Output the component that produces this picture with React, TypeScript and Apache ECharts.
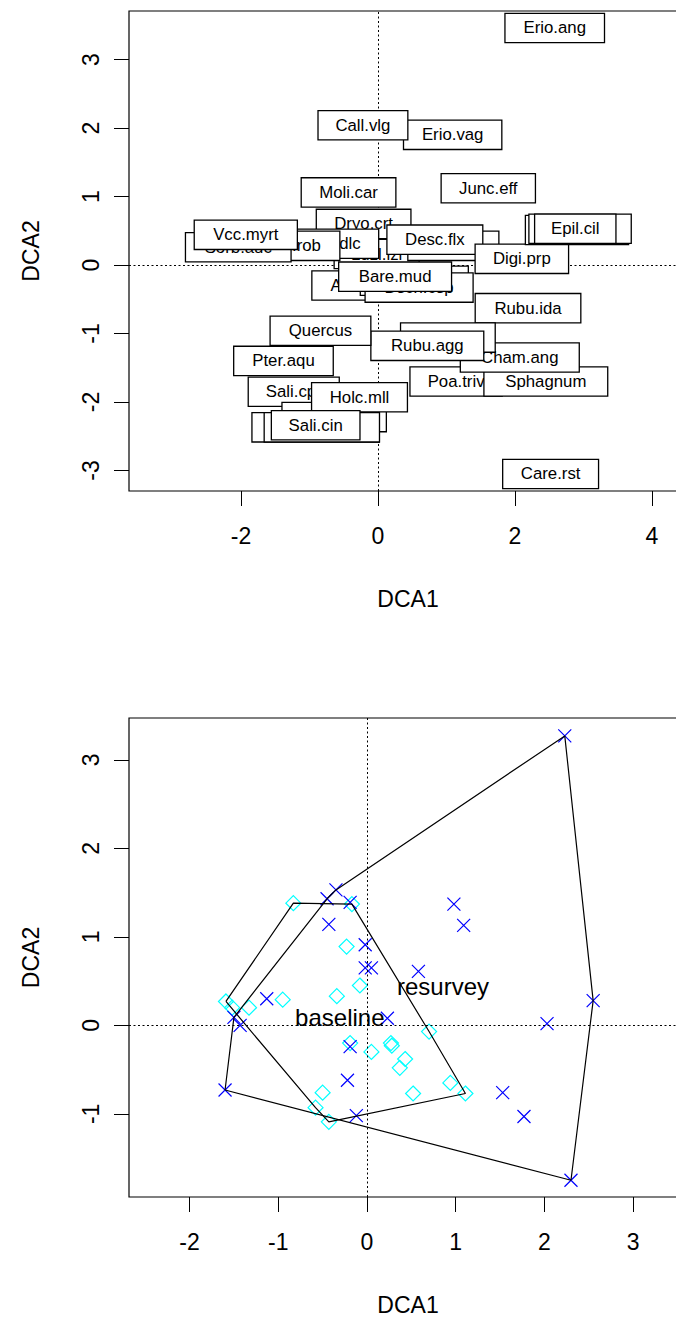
import React, { useEffect, useRef } from "react";
import * as echarts from "echarts";

// ---- Species scores (DCA1, DCA2), in plotting order: later labels sit on top ----
const speciesNames = [
  "Erio.ang", "Erio.vag", "Call.vlg", "Moli.car", "Junc.eff", "Dryo.crt", "Luzl.lzl",
  "Soln.dlc", "Quer.rob", "Sorb.auc", "Vcc.myrt", "Holc.lnt", "Desc.flx", "Digi.prp",
  "Lotu.pdn", "Lych.flsc", "Epil.cil", "Anth.odr", "Ranu.rpn", "Dsch.csp", "Bare.mud",
  "Rubu.ida", "Poa.triv", "Sphagnum", "Cham.ang", "Gali.apr", "Rubu.agg", "Quercus",
  "Pter.aqu", "Sali.cpr", "Agrs.can", "Holc.mll", "Sali.repens", "Sali.aurita",
  "Sali.cin", "Care.rst",
];
const speciesDCA1 = [
  2.58, 1.09, -0.22, -0.43, 1.61, -0.21, -0.02,
  -0.69, -1.31, -2.04, -1.93, 1.10, 0.83, 2.10,
  2.905, 2.95, 2.88, -0.23, 0.53, 0.60, 0.25,
  2.19, 1.14, 2.45, 2.07, 1.02, 0.72, -0.84,
  -1.38, -1.23, -0.64, -0.27, -0.91, -0.82,
  -0.91, 2.52,
];
const speciesDCA2 = [
  3.46, 1.90, 2.04, 1.06, 1.12, 0.60, 0.16,
  0.31, 0.28, 0.26, 0.44, 0.28, 0.37, 0.09,
  0.51, 0.53, 0.53, -0.30, -0.23, -0.33, -0.17,
  -0.63, -1.70, -1.70, -1.35, -1.06, -1.18, -0.96,
  -1.40, -1.85, -2.22, -1.93, -2.37, -2.37,
  -2.34, -3.05,
];

// ---- Site scores by survey ----
const groupNames = ["baseline", "resurvey"];
const baselineDCA1 = [
  -0.83, -0.17, -0.23, -0.08, -0.34, -0.95, -1.33, -1.59, -1.52, -0.19, 0.05,
  0.27, 0.28, 0.43, 0.37, 0.70, -0.50, -0.58, -0.43, 0.52, 0.94, 1.11,
];
const baselineDCA2 = [
  1.38, 1.37, 0.89, 0.45, 0.33, 0.29, 0.20, 0.27, 0.20, -0.20, -0.30,
  -0.20, -0.23, -0.38, -0.48, -0.07, -0.76, -0.93, -1.09, -0.77, -0.65, -0.77,
];
const resurveyDCA1 = [
  2.23, 2.55, 2.03, 2.30, 1.53, 1.77, 0.98, 1.09, 0.58, 0.23, -0.02, -0.02,
  0.05, -0.19, -0.22, -0.12, -1.13, -1.50, -1.43, -1.60, -0.35, -0.45, -0.19, -0.43,
];
const resurveyDCA2 = [
  3.27, 0.28, 0.02, -1.75, -0.76, -1.03, 1.37, 1.13, 0.61, 0.08, 0.91, 0.65,
  0.65, -0.24, -0.62, -1.02, 0.30, 0.09, 0.00, -0.73, 1.53, 1.43, 1.39, 1.14,
];

// ---- Axis ticks and plotting ranges ----
const topXTicks = [-2, 0, 2, 4];
const topYTicks = [-3, -2, -1, 0, 1, 2, 3];
const bottomXTicks = [-2, -1, 0, 1, 2, 3];
const bottomYTicks = [-1, 0, 1, 2, 3];
const topXRange = [-3.635, 4.511];
const topYRange = [-3.299, 3.708];
const bottomXRange = [-2.683, 3.608];
const bottomYRange = [-1.939, 3.472];

const FONT = "Liberation Sans, Arial, sans-serif";
const LABEL_SIZE = 16.8;
const AXIS_SIZE = 23;

type Pt = [number, number];

function zip(xs: number[], ys: number[]): Pt[] {
  return xs.map((x, i) => [x, ys[i]] as Pt);
}

// Monotone-chain convex hull
function convexHull(points: Pt[]): Pt[] {
  const p = points.slice().sort((a, b) => a[0] - b[0] || a[1] - b[1]);
  const cross = (o: Pt, a: Pt, b: Pt) =>
    (a[0] - o[0]) * (b[1] - o[1]) - (a[1] - o[1]) * (b[0] - o[0]);
  const lower: Pt[] = [];
  for (const q of p) {
    while (lower.length >= 2 && cross(lower[lower.length - 2], lower[lower.length - 1], q) <= 0) lower.pop();
    lower.push(q);
  }
  const upper: Pt[] = [];
  for (let i = p.length - 1; i >= 0; i--) {
    const q = p[i];
    while (upper.length >= 2 && cross(upper[upper.length - 2], upper[upper.length - 1], q) <= 0) upper.pop();
    upper.push(q);
  }
  upper.pop();
  lower.pop();
  return lower.concat(upper);
}

// Area centroid of a polygon
function polyCentre(poly: Pt[]): Pt {
  let a = 0, cx = 0, cy = 0;
  for (let i = 0; i < poly.length; i++) {
    const [x0, y0] = poly[i];
    const [x1, y1] = poly[(i + 1) % poly.length];
    const f = x0 * y1 - x1 * y0;
    a += f;
    cx += (x0 + x1) * f;
    cy += (y0 + y1) * f;
  }
  a /= 2;
  return [cx / (6 * a), cy / (6 * a)];
}

function measure(text: string, size: number): number {
  const ctx = document.createElement("canvas").getContext("2d");
  if (!ctx) return text.length * size * 0.55;
  ctx.font = `${size}px "Liberation Sans"`;
  return ctx.measureText(text).width;
}

function axisCommon(ticks: number[], range: number[], gridIndex: number, labelExtra: object) {
  return {
    gridIndex,
    type: "value",
    min: range[0],
    max: range[1],
    splitLine: { show: false },
    axisLine: { show: false, onZero: false },
    axisTick: {
      show: true,
      inside: false,
      length: 15,
      customValues: ticks,
      lineStyle: { color: "#000", width: 1 },
    },
    axisLabel: {
      customValues: ticks,
      fontFamily: FONT,
      fontSize: AXIS_SIZE,
      color: "#000",
      ...labelExtra,
    },
    nameTextStyle: { fontFamily: FONT, fontSize: AXIS_SIZE, color: "#000" },
  };
}

function dottedZeroLines(xAxisIndex: number, yAxisIndex: number) {
  return {
    type: "scatter",
    xAxisIndex,
    yAxisIndex,
    data: [[0, 0]],
    symbolSize: 0,
    silent: true,
    z: 1,
    markLine: {
      silent: true,
      symbol: "none",
      label: { show: false },
      lineStyle: { type: [2, 2.5], color: "#000", width: 1, opacity: 1 },
      data: [{ xAxis: 0 }, { yAxis: 0 }],
    },
  };
}

export default function App() {
  const ref = useRef<HTMLDivElement>(null);

  useEffect(() => {
    if (!ref.current) return;
    const chart = echarts.init(ref.current, undefined, { renderer: "svg" });

    // ordilabel-style boxes: opaque white fill, black border, one series each so
    // the stacking follows the list order
    const speciesSeries = speciesNames.map((name, i) => {
      const w = measure(name, LABEL_SIZE);
      const padX = 0.15 * w + 8.5;
      return {
        type: "scatter",
        xAxisIndex: 0,
        yAxisIndex: 0,
        z: 10 + i,
        silent: true,
        symbolSize: 1,
        itemStyle: { color: "transparent", opacity: 1 },
        data: [[speciesDCA1[i], speciesDCA2[i]]],
        label: {
          show: true,
          position: "inside",
          formatter: name,
          fontFamily: FONT,
          fontSize: LABEL_SIZE,
          lineHeight: 18,
          color: "#000",
          opacity: 1,
          textBorderWidth: 0,
          backgroundColor: "#fff",
          borderColor: "#000",
          borderWidth: 1.3,
          padding: [5, padX, 5, padX],
        },
      };
    });

    const baseline = zip(baselineDCA1, baselineDCA2);
    const resurvey = zip(resurveyDCA1, resurveyDCA2);
    const hulls = [convexHull(baseline), convexHull(resurvey)];
    const centres = hulls.map(polyCentre);

    const hullSeries = hulls.map((h, gi) => ({
      type: "line",
      name: groupNames[gi] + " hull",
      xAxisIndex: 1,
      yAxisIndex: 1,
      z: 4,
      silent: true,
      symbol: "none",
      lineStyle: { color: "#000", width: 1.2, opacity: 1 },
      data: [...h, h[0]],
    }));

    const option = {
      animation: false,
      backgroundColor: "#fff",
      textStyle: { fontFamily: FONT },
      grid: [
        { left: 129, top: 11, width: 558, height: 480, show: true, borderColor: "#000", borderWidth: 1.2, backgroundColor: "transparent" },
        { left: 129, top: 718, width: 558, height: 480, show: true, borderColor: "#000", borderWidth: 1.2, backgroundColor: "transparent" },
      ],
      xAxis: [
        { ...axisCommon(topXTicks, topXRange, 0, { margin: 33 }), name: "DCA1", nameLocation: "middle", nameGap: 96 },
        { ...axisCommon(bottomXTicks, bottomXRange, 1, { margin: 33 }), name: "DCA1", nameLocation: "middle", nameGap: 96 },
      ],
      yAxis: [
        { ...axisCommon(topYTicks, topYRange, 0, { margin: 27, rotate: 90 }), name: "DCA2", nameLocation: "middle", nameGap: 87 },
        { ...axisCommon(bottomYTicks, bottomYRange, 1, { margin: 27, rotate: 90 }), name: "DCA2", nameLocation: "middle", nameGap: 87 },
      ],
      series: [
        dottedZeroLines(0, 0),
        ...speciesSeries,
        dottedZeroLines(1, 1),
        {
          type: "scatter",
          name: groupNames[0],
          xAxisIndex: 1,
          yAxisIndex: 1,
          z: 3,
          silent: true,
          symbol: "diamond",
          symbolSize: 15,
          itemStyle: { color: "transparent", borderColor: "#00ffff", borderWidth: 1.2, opacity: 1 },
          data: baseline,
        },
        {
          type: "scatter",
          name: groupNames[1],
          xAxisIndex: 1,
          yAxisIndex: 1,
          z: 3,
          silent: true,
          symbol: "path://M0,0L10,10M10,0L0,10",
          symbolSize: 13,
          itemStyle: { color: "transparent", borderColor: "#0000ff", borderWidth: 1.2, opacity: 1 },
          data: resurvey,
        },
        ...hullSeries,
        {
          type: "scatter",
          name: "group labels",
          xAxisIndex: 1,
          yAxisIndex: 1,
          z: 6,
          silent: true,
          symbolSize: 0,
          itemStyle: { opacity: 1 },
          data: centres.map((c, gi) => ({ value: c, name: groupNames[gi] })),
          label: {
            show: true,
            position: "inside",
            formatter: "{b}",
            fontFamily: FONT,
            fontSize: 24,
            color: "#000",
            opacity: 1,
            textBorderWidth: 0,
          },
        },
      ],
    };

    chart.setOption(option as any);
    return () => chart.dispose();
  }, []);

  // The plot boxes run past the right edge of the page, so the chart canvas is
  // wider than the visible frame and clipped by it.
  return (
    <div
      style={{ position: "absolute", left: 0, top: 0, width: 676, height: 1317, overflow: "hidden", background: "#fff" }}
    >
      <div ref={ref} style={{ width: 700, height: 1317 }} />
    </div>
  );
}
